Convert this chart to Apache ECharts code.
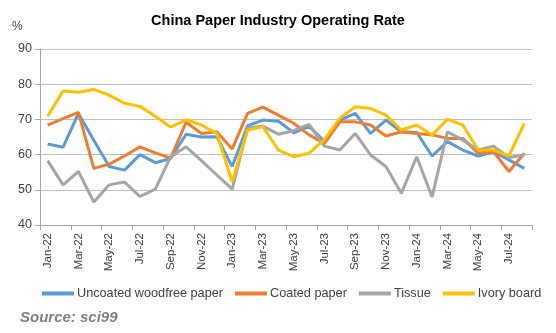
<!DOCTYPE html>
<html>
<head>
<meta charset="utf-8">
<script src="https://cdn.jsdelivr.net/npm/echarts@6/dist/echarts.min.js"></script>
<style>html,body{margin:0;padding:0;background:#fff;}#c{width:556px;height:333px;}</style>
</head>
<body>
<div id="c"></div>
<script>
var categories = ['Jan-22','Feb-22','Mar-22','Apr-22','May-22','Jun-22','Jul-22','Aug-22','Sep-22','Oct-22','Nov-22','Dec-22',
  'Jan-23','Feb-23','Mar-23','Apr-23','May-23','Jun-23','Jul-23','Aug-23','Sep-23','Oct-23','Nov-23','Dec-23',
  'Jan-24','Feb-24','Mar-24','Apr-24','May-24','Jun-24','Jul-24','Aug-24'];
var uncoated = [63.0,62.1,71.7,64.1,56.6,55.6,60.0,57.7,58.9,65.8,65.0,65.1,56.6,68.2,69.8,69.5,66.2,68.0,63.8,69.8,71.7,66.0,69.8,66.5,66.3,59.6,63.7,61.3,59.6,60.8,58.5,56.1];
var coated = [68.4,70.2,72.0,56.1,57.3,59.6,62.2,60.5,59.0,69.2,66.0,66.5,61.6,71.7,73.5,71.2,68.9,65.6,63.2,69.3,69.3,68.4,65.3,66.5,66.0,65.6,64.6,64.6,60.4,60.8,55.2,60.4];
var tissue = [58.3,51.4,55.2,46.5,51.4,52.2,48.1,50.2,59.4,62.2,58.3,54.2,50.2,67.5,68.1,65.8,66.8,68.6,62.4,61.3,66.0,59.9,56.6,49.0,59.4,48.0,66.5,64.1,61.3,62.4,59.2,59.9];
var ivory = [70.9,78.1,77.7,78.5,76.9,74.6,73.7,70.9,67.8,69.9,68.4,66.0,52.3,67.0,67.9,61.3,59.4,60.4,64.3,70.3,73.6,73.1,71.2,67.0,68.4,65.6,70.0,68.4,61.3,61.3,59.6,68.9];
var seriesNames = ['Uncoated woodfree paper','Coated paper','Tissue','Ivory board'];
var colors = ['#5B9BD5','#ED7D31','#A5A5A5','#FFC000'];
var yMin = 40, yMax = 90, yStep = 10;

var chart = echarts.init(document.getElementById('c'), null, {renderer:'canvas'});
var font = '"Liberation Sans", Arial, sans-serif';
var dataSets = [uncoated, coated, tissue, ivory];
var series = dataSets.map(function(d, i){
  return {
    name: seriesNames[i], type:'line', data:d, symbol:'none', smooth:false,
    lineStyle:{color:colors[i], width:3}, itemStyle:{color:colors[i]}, z: 2+i
  };
});
chart.setOption({
  animation:false,
  backgroundColor:'#fff',
  title:{text:'China Paper Industry Operating Rate', left:'center', top:8,
    textStyle:{fontFamily:font, fontWeight:'bold', fontSize:14.5, color:'#000'}},
  graphic:[
    {type:'text', left:12, top:21, style:{text:'%', fontFamily:font, fontSize:12, fill:'#404040'}},
    {type:'text', left:20, top:310, style:{text:'Source: sci99', fontFamily:font, fontSize:15, fontWeight:'bold', fontStyle:'italic', fill:'#808080'}}
  ],
  grid:{left:40, right:24, top:49, bottom:108},
  legend:{data:seriesNames, bottom:28, left:37, icon:'rect', itemWidth:32, itemHeight:4, itemGap:12,
    textStyle:{fontFamily:font, fontSize:12.7, color:'#404040', padding:[0,0,0,-2]}},
  xAxis:{type:'category', data:categories, boundaryGap:true,
    axisLine:{lineStyle:{color:'#A6A6A6', width:1}},
    axisTick:{show:true, interval:1, length:5, lineStyle:{color:'#A6A6A6'}},
    axisLabel:{interval:1, rotate:90, margin:8, fontFamily:font, fontSize:11.5, color:'#404040'}},
  yAxis:{type:'value', min:yMin, max:yMax, interval:yStep,
    axisLine:{show:true, lineStyle:{color:'#A6A6A6'}},
    axisTick:{show:true, length:5, lineStyle:{color:'#A6A6A6'}},
    splitLine:{lineStyle:{color:'#BFBFBF', width:1}},
    axisLabel:{margin:8, fontFamily:font, fontSize:12.5, color:'#404040'}},
  series:series
});
</script>
</body>
</html>
